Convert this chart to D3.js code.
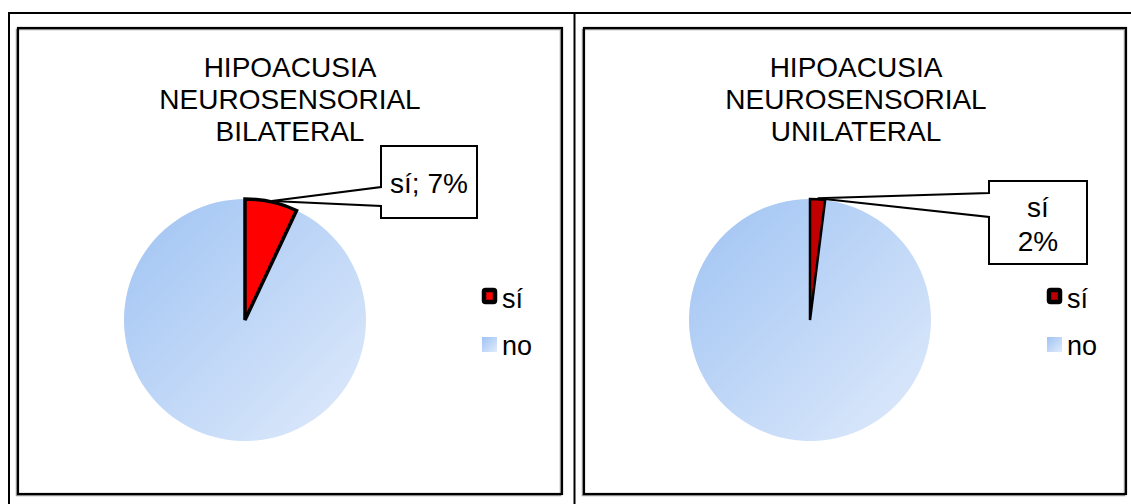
<!DOCTYPE html>
<html>
<head>
<meta charset="utf-8">
<script src="https://cdn.jsdelivr.net/npm/d3@7/dist/d3.min.js"></script>
<style>
  html, body { margin: 0; padding: 0; background: #fff; }
  svg { display: block; }
  text { font-family: "Liberation Sans", Arial, sans-serif; fill: #000; }
</style>
</head>
<body>
<svg id="chart" width="1131" height="504"></svg>
<script>
// Categories shared by both pies
const categories = ["sí", "no"];
// Percentages for each chart
const bilateralValues = [7, 93];
const unilateralValues = [2, 98];
// Chart titles (one line per entry)
const bilateralTitle = ["HIPOACUSIA", "NEUROSENSORIAL", "BILATERAL"];
const unilateralTitle = ["HIPOACUSIA", "NEUROSENSORIAL", "UNILATERAL"];
// Data label texts
const bilateralLabel = ["sí; 7%"];
const unilateralLabel = ["sí", "2%"];

const svg = d3.select("#chart");
const defs = svg.append("defs");

function blueGradient(id) {
  const g = defs.append("linearGradient").attr("id", id)
    .attr("x1", "0%").attr("y1", "0%").attr("x2", "100%").attr("y2", "100%");
  g.append("stop").attr("offset", "0%").attr("stop-color", "#9fc3f3");
  g.append("stop").attr("offset", "100%").attr("stop-color", "#e0ebfb");
}
blueGradient("blueFill");

// Table lines around the two cells
const table = svg.append("g").attr("stroke", "#000").attr("fill", "none");
table.append("line").attr("x1", 9).attr("x2", 1131).attr("y1", 13).attr("y2", 13).attr("stroke-width", 2);
table.append("line").attr("x1", 9).attr("x2", 9).attr("y1", 12).attr("y2", 504).attr("stroke-width", 2);
table.append("line").attr("x1", 574.5).attr("x2", 574.5).attr("y1", 12).attr("y2", 504).attr("stroke-width", 2);

function drawChart(cfg) {
  const g = svg.append("g");
  // chart frame with a soft shadow edge
  g.append("rect")
    .attr("x", cfg.frame[0] - 1.5).attr("y", cfg.frame[1] + 1.5)
    .attr("width", cfg.frame[2] - cfg.frame[0]).attr("height", cfg.frame[3] - cfg.frame[1])
    .attr("fill", "none").attr("stroke", "#9a9a9a").attr("stroke-width", 1.5);
  g.append("rect")
    .attr("x", cfg.frame[0]).attr("y", cfg.frame[1])
    .attr("width", cfg.frame[2] - cfg.frame[0]).attr("height", cfg.frame[3] - cfg.frame[1])
    .attr("fill", "none").attr("stroke", "#000").attr("stroke-width", 2.2);

  // title
  const title = g.append("text")
    .attr("text-anchor", "middle").attr("font-size", 28);
  cfg.title.forEach((t, i) => {
    title.append("tspan").attr("x", cfg.titleX).attr("y", 77 + i * 32).text(t);
  });

  const colors = d3.scaleOrdinal().domain(categories).range([cfg.red, "url(#blueFill)"]);
  const pie = d3.pie().sort(null).value(d => d.value);
  const data = pie(categories.map((c, i) => ({ cat: c, value: cfg.values[i] })));
  const arc = d3.arc().innerRadius(0).outerRadius(cfg.r);

  const pg = g.append("g").attr("transform", `translate(${cfg.cx},${cfg.cy})`);
  // blue slice first, red slice on top with its black outline
  pg.selectAll("path.slice")
    .data(data.slice().reverse())
    .join("path")
    .attr("class", "slice")
    .attr("d", arc)
    .attr("fill", d => colors(d.data.cat))
    .attr("stroke", d => d.data.cat === "sí" ? "#000" : "none")
    .attr("stroke-width", cfg.redStroke)
    .attr("stroke-linejoin", "miter");

  // callout box pointing to the middle of the "sí" slice
  const sl = data[0];
  const mid = (sl.startAngle + sl.endAngle) / 2;
  const tipR = cfg.r + 1;
  const tx = cfg.cx + tipR * Math.sin(mid);
  const ty = cfg.cy - tipR * Math.cos(mid);
  const b = cfg.box;
  const pts = [[b.x0, b.y0], [b.x1, b.y0], [b.x1, b.y1], [b.x0, b.y1], [b.x0, b.w2], [tx, ty], [b.x0, b.w1]];
  g.append("path")
    .attr("d", "M" + pts.map(p => p.join(",")).join("L") + "Z")
    .attr("fill", "#fff").attr("stroke", "#000").attr("stroke-width", 2).attr("stroke-linejoin", "miter");
  const lab = g.append("text").attr("text-anchor", "middle").attr("font-size", 28);
  cfg.label.forEach((t, i) => {
    lab.append("tspan").attr("x", (b.x0 + b.x1) / 2).attr("y", cfg.labelY + i * 34).text(t);
  });

  // legend
  const lg = g.append("g").attr("transform", `translate(${cfg.legendX},0)`);
  const ly = [298, 345];
  categories.forEach((c, i) => {
    if (c === "sí") {
      lg.append("rect").attr("x", 2).attr("y", ly[i] - 8).attr("width", 11).attr("height", 12)
        .attr("fill", cfg.red).attr("stroke", "#000").attr("stroke-width", 4.5).attr("rx", 1.5);
    } else {
      lg.append("rect").attr("x", 0).attr("y", ly[i] - 8).attr("width", 15).attr("height", 15)
        .attr("fill", "url(#blueFill)");
    }
    lg.append("text").attr("x", 20).attr("y", ly[i] + 9.5).attr("font-size", 27).text(c);
  });
}

drawChart({
  frame: [18, 28, 562, 494],
  title: bilateralTitle, titleX: 290,
  values: bilateralValues,
  cx: 245, cy: 320, r: 121,
  red: "#ff0000", redStroke: 3.5,
  box: { x0: 381, x1: 477, y0: 146, y1: 218, w1: 187, w2: 206 },
  label: bilateralLabel, labelY: 193,
  legendX: 482
});

drawChart({
  frame: [584, 28, 1126, 494],
  title: unilateralTitle, titleX: 856,
  values: unilateralValues,
  cx: 810, cy: 320, r: 121,
  red: "#c00000", redStroke: 2.5,
  box: { x0: 989, x1: 1087, y0: 181, y1: 264, w1: 193, w2: 217 },
  label: unilateralLabel, labelY: 217,
  legendX: 1047
});
</script>
</body>
</html>
